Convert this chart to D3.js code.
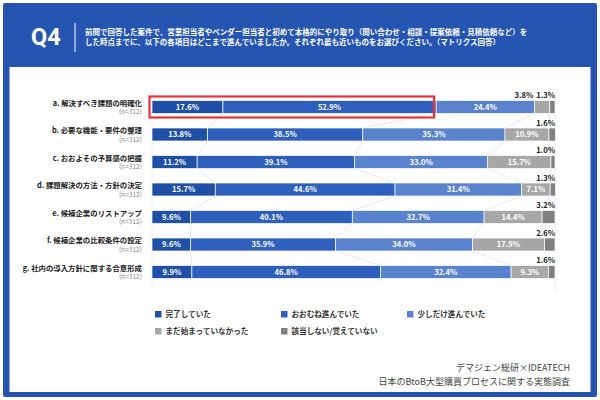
<!DOCTYPE html>
<html>
<head>
<meta charset="utf-8">
<script src="https://cdn.jsdelivr.net/npm/d3@7"></script>
<style>
  html, body { margin: 0; padding: 0; background: #fff; }
  svg { display: block; font-family: "Noto Sans CJK JP", "Noto Sans", sans-serif; }
</style>
</head>
<body>
<div id="chart"></div>
<script>
// survey rows
var categories = ["a. 解決すべき課題の明確化", "b. 必要な機能・要件の整理", "c. おおよその予算感の把握",
  "d. 課題解決の方法・方針の決定", "e. 候補企業のリストアップ", "f. 候補企業の比較条件の設定",
  "g. 社内の導入方針に関する合意形成"];
var sampleLabels = ["(n=312)", "(n=312)", "(n=312)", "(n=312)", "(n=312)", "(n=312)", "(n=312)"];
var seriesNames = ["完了していた", "おおむね進んでいた", "少しだけ進んでいた", "まだ始まっていなかった", "該当しない/覚えていない"];

// one array per answer
var done     = [17.6, 13.8, 11.2, 15.7, 9.6, 9.6, 9.9];
var mostly   = [52.9, 38.5, 39.1, 44.6, 40.1, 35.9, 46.8];
var slightly = [24.4, 35.3, 33.0, 31.4, 32.7, 34.0, 32.4];
var notYet   = [3.8, 10.9, 15.7, 7.1, 14.4, 17.9, 9.3];
var na       = [1.3, 1.6, 1.0, 1.3, 3.2, 2.6, 1.6];

var questionLines = [
  "前問で回答した案件で、営業担当者やベンダー担当者と初めて本格的にやり取り（問い合わせ・相談・提案依頼・見積依頼など）を",
  "した時点までに、以下の各項目はどこまで進んでいましたか。それぞれ最も近いものをお選びください。（マトリクス回答）"
];
var sourceLines = ["デマジェン総研×IDEATECH", "日本のBtoB大型購買プロセスに関する実態調査"];

var colors = ["#2050a6", "#2f5fbc", "#5a83cd", "#a7a7a7", "#808080"];
var blue = "#2555b0";

var W = 600, H = 400;
var svg = d3.select("#chart").append("svg").attr("width", W).attr("height", H);

// frame + header band
svg.append("rect").attr("x", 3).attr("y", 3).attr("width", 594).attr("height", 394)
  .attr("rx", 2).style("fill", blue);
svg.append("rect").attr("x", 9.5).attr("y", 67).attr("width", 581).attr("height", 325)
  .style("fill", "#fff");

svg.append("text").text("Q4").attr("x", 31).attr("y", 44.5)
  .style("font-family", "Roboto, 'Noto Sans', sans-serif")
  .style("font-size", "23.5px").style("font-weight", "bold").style("fill", "#fff");
svg.append("line").attr("x1", 75).attr("x2", 75).attr("y1", 23).attr("y2", 52)
  .style("stroke", "#fff").style("stroke-width", 1);
svg.selectAll("text.q").data(questionLines).enter().append("text")
  .attr("class", "q").text(function(d) { return d; })
  .attr("x", 85).attr("y", function(d, i) { return 35 + i * 10; })
  .style("font-size", "7.5px").style("font-weight", "bold").style("fill", "#fff");

// scales
var x = d3.scaleLinear().domain([0, 100]).range([152, 555]);
var y = d3.scalePoint().domain(categories).range([107, 272]);
var barH = 13;

var series = [done, mostly, slightly, notYet, na];
var rows = categories.map(function(c, i) {
  var cum = 0;
  var segs = series.map(function(s, k) {
    var seg = { k: k, v: s[i], x0: cum, x1: cum + s[i] };
    cum += s[i];
    return seg;
  });
  return { cat: c, n: sampleLabels[i], segs: segs };
});

// frame lines
svg.selectAll("line.edge").data([0, 100]).enter().append("line")
  .attr("class", "edge")
  .attr("x1", function(d) { return x(d); }).attr("x2", function(d) { return x(d); })
  .attr("y1", 88).attr("y2", 292)
  .style("stroke", "#e4e4e4").style("stroke-width", 0.7);

// connector lines between rows
for (var i = 0; i < rows.length - 1; i++) {
  for (var k = 0; k < 4; k++) {
    svg.append("line")
      .attr("x1", x(rows[i].segs[k].x1)).attr("y1", y(rows[i].cat) + barH / 2)
      .attr("x2", x(rows[i + 1].segs[k].x1)).attr("y2", y(rows[i + 1].cat) - barH / 2)
      .style("stroke", "#d6d6d6").style("stroke-width", 0.6);
  }
}

var g = svg.selectAll("g.row").data(rows).enter().append("g").attr("class", "row");

g.selectAll("rect").data(function(d) { return d.segs.map(function(s) { s.cat = d.cat; return s; }); })
  .enter().append("rect")
  .attr("x", function(d) { return x(d.x0); })
  .attr("width", function(d) { return Math.max(0, x(d.x1) - x(d.x0)); })
  .attr("y", function(d) { return y(d.cat) - barH / 2; })
  .attr("height", barH)
  .style("fill", function(d) { return colors[d.k]; })
  .style("stroke", "#fff").style("stroke-width", 0.7);

// inside labels
g.selectAll("text.in").data(function(d) { return d.segs.filter(function(s) { return s.v >= 5; }); })
  .enter().append("text").attr("class", "in")
  .text(function(d) { return d.v.toFixed(1) + "%"; })
  .attr("x", function(d) { return (x(d.x0) + x(d.x1)) / 2; })
  .attr("y", function(d) { return y(d.cat) + 2.8; })
  .attr("text-anchor", "middle")
  .style("font-size", "7.6px").style("font-weight", "600").style("fill", "#fff");

// small values above the bar, stacked from the right end
g.each(function(d) {
  var small = d.segs.filter(function(s) { return s.v < 5; }).reverse();
  var right = x(100);
  var row = d3.select(this);
  small.forEach(function(s) {
    var t = row.append("text").text(s.v.toFixed(1) + "%")
      .attr("x", right).attr("y", y(d.cat) - barH / 2 - 2.5)
      .attr("text-anchor", "end")
      .style("font-size", "7.6px").style("font-weight", "bold").style("fill", "#222");
    right -= t.node().getComputedTextLength() + 3;
  });
});

// row labels
g.append("text").text(function(d) { return d.cat; })
  .attr("x", 142).attr("y", function(d) { return y(d.cat) - 1.5; })
  .attr("text-anchor", "end")
  .style("font-size", "7.4px").style("font-weight", "bold").style("fill", "#222");
g.append("text").text(function(d) { return d.n; })
  .attr("x", 142).attr("y", function(d) { return y(d.cat) + 7; })
  .attr("text-anchor", "end")
  .style("font-size", "6.6px").style("fill", "#888");

// highlight box on row a
svg.append("rect")
  .attr("x", x(0) - 2.5).attr("y", y(categories[0]) - barH / 2 - 4)
  .attr("width", x(rows[0].segs[1].x1) - x(0) + 0.5)
  .attr("height", barH + 8)
  .style("fill", "none").style("stroke", "#e5323c").style("stroke-width", 2.2);

// legend
var legX = [155, 281, 407], legY = [314, 331];
var leg = svg.selectAll("g.leg").data(seriesNames).enter().append("g").attr("class", "leg")
  .attr("transform", function(d, i) { return "translate(" + legX[i % 3] + "," + legY[Math.floor(i / 3)] + ")"; });
leg.append("rect").attr("x", 0).attr("y", -3).attr("width", 6.5).attr("height", 6.5)
  .style("fill", function(d, i) { return colors[i]; });
leg.append("text").text(function(d) { return d; })
  .attr("x", 10.5).attr("y", 3)
  .style("font-size", "7.6px").style("font-weight", "bold").style("fill", "#333");

// source
svg.selectAll("text.src").data(sourceLines).enter().append("text").attr("class", "src")
  .text(function(d) { return d; })
  .attr("x", 570).attr("y", function(d, i) { return 371 + i * 13.5; })
  .attr("text-anchor", "end")
  .style("font-size", "9px").style("fill", "#444");
</script>
</body>
</html>
